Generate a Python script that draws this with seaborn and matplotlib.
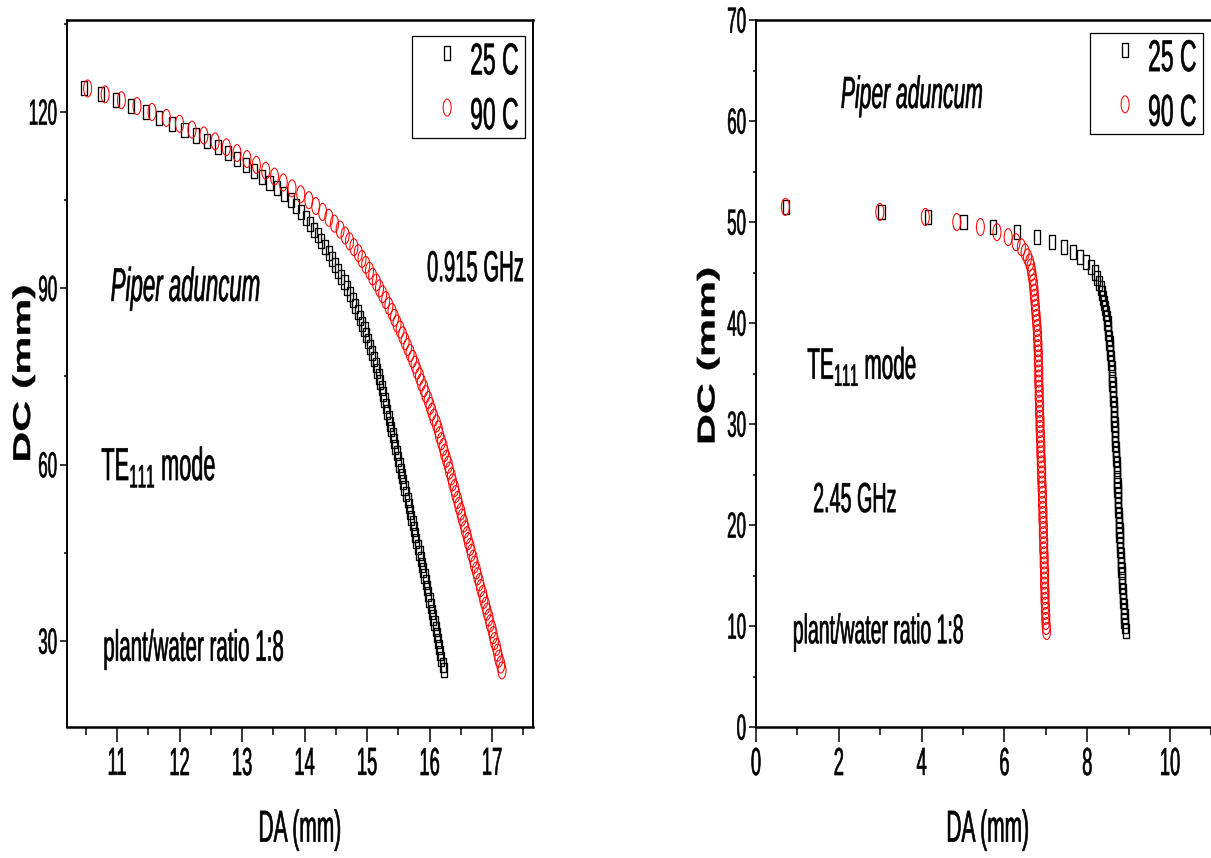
import matplotlib
matplotlib.use("Agg")
import numpy as np
import pandas as pd
import matplotlib.pyplot as plt
import seaborn as sns
from matplotlib.path import Path
from matplotlib.patheffects import AbstractPathEffect
from matplotlib.transforms import Affine2D

# ---------------- data ----------------
series_labels = ["25 C", "90 C"]
series_colors = ["black", "red"]

# 0.915 GHz panel: cavity diameter DC (mm) and antenna distance DA (mm)
dc_915 = [124, 123, 122, 121, 120, 119, 118, 117, 116, 115,
          114, 113, 112, 111, 110, 109, 108, 107, 106, 105,
          104, 103, 102, 101, 100, 99, 98, 97, 96, 95,
          94, 93, 92, 91, 90, 89, 88, 87, 86, 85,
          84, 83, 82, 81, 80, 79, 78, 77, 76, 75,
          74, 73, 72, 71, 70, 69, 68, 67, 66, 65,
          64, 63, 62, 61, 60, 59, 58, 57, 56, 55,
          54, 53, 52, 51, 50, 49, 48, 47, 46, 45,
          44, 43, 42, 41, 40, 39, 38, 37, 36, 35,
          34, 33, 32, 31, 30, 29, 28, 27, 26, 25]
da_915_25 = [10.47, 10.75, 10.99, 11.23, 11.46, 11.67, 11.88, 12.08, 12.27, 12.44,
             12.61, 12.77, 12.92, 13.06, 13.19, 13.32, 13.44, 13.56, 13.67, 13.78,
             13.87, 13.95, 14.02, 14.09, 14.15, 14.21, 14.27, 14.33, 14.39, 14.44,
             14.49, 14.54, 14.59, 14.64, 14.68, 14.73, 14.77, 14.81, 14.85, 14.89,
             14.92, 14.96, 14.99, 15.02, 15.05, 15.08, 15.11, 15.14, 15.16, 15.19,
             15.21, 15.24, 15.26, 15.28, 15.30, 15.32, 15.35, 15.37, 15.39, 15.41,
             15.43, 15.45, 15.48, 15.50, 15.52, 15.54, 15.56, 15.58, 15.60, 15.63,
             15.65, 15.67, 15.69, 15.71, 15.73, 15.75, 15.77, 15.79, 15.81, 15.84,
             15.86, 15.88, 15.90, 15.92, 15.94, 15.96, 15.98, 16.00, 16.02, 16.04,
             16.06, 16.08, 16.10, 16.12, 16.14, 16.15, 16.17, 16.19, 16.21, 16.23]
da_915_90 = [10.53, 10.81, 11.07, 11.32, 11.56, 11.79, 12.00, 12.20, 12.39, 12.57,
             12.75, 12.92, 13.08, 13.23, 13.38, 13.52, 13.66, 13.80, 13.94, 14.07,
             14.18, 14.29, 14.39, 14.48, 14.57, 14.65, 14.72, 14.79, 14.86, 14.92,
             14.98, 15.04, 15.09, 15.15, 15.20, 15.25, 15.30, 15.35, 15.40, 15.44,
             15.48, 15.53, 15.57, 15.61, 15.65, 15.69, 15.73, 15.77, 15.80, 15.84,
             15.87, 15.91, 15.94, 15.98, 16.01, 16.04, 16.07, 16.11, 16.14, 16.16,
             16.19, 16.22, 16.24, 16.27, 16.30, 16.32, 16.35, 16.37, 16.40, 16.42,
             16.45, 16.47, 16.50, 16.52, 16.55, 16.57, 16.60, 16.62, 16.65, 16.67,
             16.70, 16.72, 16.75, 16.77, 16.80, 16.82, 16.85, 16.87, 16.90, 16.92,
             16.95, 16.97, 17.00, 17.02, 17.04, 17.07, 17.09, 17.11, 17.14, 17.16]

# 2.45 GHz panel
dc_245 = [51.5, 51.0, 50.5, 50.0, 49.5, 49.0, 48.5, 48.0, 47.5, 47.0,
          46.5, 46.0, 45.5, 45.0, 44.5, 44.0, 43.5, 43.0, 42.5, 42.0,
          41.5, 41.0, 40.5, 40.0, 39.5, 39.0, 38.5, 38.0, 37.5, 37.0,
          36.5, 36.0, 35.5, 35.0, 34.5, 34.0, 33.5, 33.0, 32.5, 32.0,
          31.5, 31.0, 30.5, 30.0, 29.5, 29.0, 28.5, 28.0, 27.5, 27.0,
          26.5, 26.0, 25.5, 25.0, 24.5, 24.0, 23.5, 23.0, 22.5, 22.0,
          21.5, 21.0, 20.5, 20.0, 19.5, 19.0, 18.5, 18.0, 17.5, 17.0,
          16.5, 16.0, 15.5, 15.0, 14.5, 14.0, 13.5, 13.0, 12.5, 12.0,
          11.5, 11.0, 10.5, 10.0, 9.5]
da_245_25 = [0.73, 3.03, 4.16, 5.01, 5.72, 6.31, 6.79, 7.15, 7.43, 7.65,
             7.83, 7.98, 8.10, 8.18, 8.24, 8.29, 8.33, 8.36, 8.39, 8.41,
             8.43, 8.45, 8.47, 8.49, 8.50, 8.51, 8.53, 8.54, 8.55, 8.56,
             8.57, 8.58, 8.59, 8.60, 8.60, 8.61, 8.62, 8.62, 8.63, 8.64,
             8.64, 8.65, 8.65, 8.66, 8.67, 8.67, 8.68, 8.68, 8.69, 8.69,
             8.70, 8.71, 8.71, 8.72, 8.72, 8.73, 8.73, 8.74, 8.74, 8.75,
             8.75, 8.76, 8.77, 8.77, 8.78, 8.78, 8.79, 8.80, 8.80, 8.81,
             8.82, 8.82, 8.83, 8.84, 8.84, 8.85, 8.86, 8.86, 8.87, 8.88,
             8.89, 8.90, 8.90, 8.91, 8.93]
da_245_90 = [0.71, 2.99, 4.09, 4.85, 5.42, 5.82, 6.09, 6.28, 6.41, 6.50,
             6.56, 6.61, 6.64, 6.66, 6.68, 6.70, 6.71, 6.72, 6.73, 6.74,
             6.75, 6.76, 6.77, 6.78, 6.79, 6.80, 6.80, 6.81, 6.81, 6.82,
             6.82, 6.82, 6.83, 6.83, 6.83, 6.83, 6.84, 6.84, 6.84, 6.85,
             6.85, 6.85, 6.86, 6.86, 6.86, 6.87, 6.87, 6.88, 6.88, 6.88,
             6.89, 6.89, 6.90, 6.90, 6.90, 6.91, 6.91, 6.92, 6.92, 6.92,
             6.93, 6.93, 6.93, 6.94, 6.94, 6.94, 6.95, 6.95, 6.95, 6.96,
             6.96, 6.96, 6.97, 6.97, 6.97, 6.97, 6.98, 6.98, 6.98, 6.99,
             6.99, 7.00, 7.00, 7.01, 7.02]

# ---------------- style ----------------
sns.set_theme(style="ticks", rc={
    "axes.edgecolor": "black", "xtick.color": "black", "ytick.color": "black",
    "text.color": "black", "axes.labelcolor": "black",
})
plt.rcParams["font.family"] = ["Liberation Sans", "DejaVu Sans"]
plt.rcParams["mathtext.fontset"] = "custom"
plt.rcParams["mathtext.rm"] = "Liberation Sans"
plt.rcParams["mathtext.it"] = "Liberation Sans:italic"
plt.rcParams["mathtext.bf"] = "Liberation Sans:bold"


class Stretch(AbstractPathEffect):
    """Draw text glyphs with an anisotropic scale about their ink box."""

    def __init__(self, sx=1.0, sy=1.0, xanchor="center", yanchor="center", stroke=0.0):
        super().__init__()
        self.sx, self.sy = sx, sy
        self.xanchor, self.yanchor = xanchor, yanchor
        self.stroke = stroke

    def draw_path(self, renderer, gc, tpath, affine, rgbFace=None):
        ext = tpath.transformed(affine).get_extents()
        x0 = {"left": ext.x0, "right": ext.x1}.get(self.xanchor, 0.5 * (ext.x0 + ext.x1))
        y0 = {"bottom": ext.y0, "top": ext.y1}.get(self.yanchor, 0.5 * (ext.y0 + ext.y1))
        scale = (Affine2D().translate(-x0, -y0)
                 .scale(self.sx, self.sy).translate(x0, y0))
        gc0 = renderer.new_gc()
        gc0.copy_properties(gc)
        if self.stroke > 0 and rgbFace is not None:
            gc0.set_linewidth(self.stroke)
            gc0.set_foreground(rgbFace)
        renderer.draw_path(gc0, tpath, affine + scale, rgbFace)
        gc0.restore()


K = 2.13
STROKE = 0.45


def tall(anchor="center", k=K, stroke=STROKE):
    return [Stretch(1.0, k, "center", anchor, stroke)]


# narrow open markers
square_mk = Path([(-0.22, -0.5), (0.22, -0.5), (0.22, 0.5), (-0.22, 0.5), (-0.22, -0.5)],
                 [Path.MOVETO, Path.LINETO, Path.LINETO, Path.LINETO, Path.CLOSEPOLY])
circle_mk = Path.unit_circle().transformed(Affine2D().scale(0.235, 0.5))
markers = [square_mk, circle_mk]
msizes = [102, 150]
mlws = [0.95, 0.75]

fig = plt.figure(figsize=(12.11, 8.58), dpi=100)
fig.patch.set_facecolor("white")
ax1 = fig.add_axes([67 / 1211, 131 / 858, 466 / 1211, 707 / 858])
ax2 = fig.add_axes([756 / 1211, 131 / 858, 463.7 / 1211, 707 / 858])

panels = [
    (ax1, dc_915, [da_915_25, da_915_90]),
    (ax2, dc_245, [da_245_25, da_245_90]),
]

for ax, dc, das in panels:
    for da, lab, col, mk, sz, lw in zip(das, series_labels, series_colors, markers, msizes, mlws):
        df = pd.DataFrame({"DA": da, "DC": dc})
        sns.scatterplot(data=df, x="DA", y="DC", ax=ax, marker=mk, s=sz,
                        facecolor="none", edgecolor=col, color=col,
                        linewidth=lw, label=lab, legend=False)


def style_axes(ax, xlim, ylim, xmaj, xmin, ymaj, ymin):
    ax.set_xlim(*xlim)
    ax.set_ylim(*ylim)
    ax.set_xticks(xmaj)
    ax.set_xticks(xmin, minor=True)
    ax.set_yticks(ymaj)
    ax.set_yticks(ymin, minor=True)
    ax.tick_params(axis="x", which="major", direction="out", length=10.8, width=1.1,
                   pad=4.0, labelsize=13.2)
    ax.tick_params(axis="x", which="minor", direction="out", length=5.4, width=1.1)
    ax.tick_params(axis="y", which="major", direction="out", length=5.0, width=1.1,
                   pad=2.2, labelsize=12.2)
    ax.tick_params(axis="y", which="minor", direction="out", length=2.5, width=1.1)
    for lbl in ax.get_xticklabels():
        lbl.set_path_effects(tall("top"))
    for lbl in ax.get_yticklabels():
        lbl.set_path_effects(tall("center"))
    for name, sp in ax.spines.items():
        sp.set_visible(True)
        sp.set_color("black")
        sp.set_linewidth(1.8 if name in ("top", "bottom") else 1.4)
    ax.set_facecolor("white")
    ax.grid(False)


style_axes(ax1, (10.2, 17.656), (15.37, 135.65),
           [11, 12, 13, 14, 15, 16, 17],
           [10.5, 11.5, 12.5, 13.5, 14.5, 15.5, 16.5, 17.5],
           [30, 60, 90, 120], [45, 75, 105, 135])
style_axes(ax2, (0, 11.2), (0, 70),
           [0, 2, 4, 6, 8, 10], [1, 3, 5, 7, 9, 11],
           [0, 10, 20, 30, 40, 50, 60, 70], [5, 15, 25, 35, 45, 55, 65])


def axis_labels(ax, ylab_x, ylab_y):
    ax.set_xlabel("DA (mm)", fontsize=15.1)
    ax.xaxis.set_label_coords(0.5, -0.1457)
    ax.xaxis.label.set_va("center")
    ax.xaxis.label.set_path_effects(tall("center"))
    ax.set_ylabel("DC (mm)", fontsize=17.5, fontweight="bold")
    ax.yaxis.set_label_coords(ylab_x, ylab_y)
    ax.yaxis.label.set_va("center")
    # rotated label: lengthen it along the axis
    ax.yaxis.label.set_path_effects([Stretch(1.0, 1.76, "center", "center", 0.3)])


axis_labels(ax1, -0.0933, 0.5)
axis_labels(ax2, -0.1035, 0.525)


def note(ax, x, y, s, size, style="normal"):
    t = ax.text(x, y, s, fontsize=size, style=style, ha="left", va="center")
    t.set_path_effects(tall("center"))


note(ax1, 10.90, 89.9, "Piper aduncum", 16, "italic")
note(ax1, 15.96, 93.5, "0.915 GHz", 14.6)
note(ax1, 10.75, 59.6, "TE$_{111}$ mode", 15.6)
note(ax1, 10.78, 28.6, "plant/water ratio 1:8", 14.8)

note(ax2, 2.05, 62.45, "Piper aduncum", 15.2, "italic")
note(ax2, 1.24, 35.7, "TE$_{111}$ mode", 14.9)
note(ax2, 1.38, 22.58, "2.45 GHz", 14.2)
note(ax2, 0.89, 9.3, "plant/water ratio 1:8", 14.0)


def legend(ax, anchor):
    fs = 16.5
    leg = ax.legend(loc="upper right", bbox_to_anchor=anchor, borderaxespad=0,
                    fontsize=fs, frameon=True, fancybox=False, edgecolor="black",
                    framealpha=1, scatterpoints=1, scatteryoffsets=[0.42],
                    handlelength=2.47, handleheight=1.86, handletextpad=-0.23,
                    borderpad=0.29, labelspacing=0.93)
    leg.get_frame().set_linewidth(0.9)
    for t in leg.get_texts():
        t.set_path_effects(tall("center", k=1.94))


legend(ax1, (0.983, 0.977))
legend(ax2, (0.964, 0.9816))

fig.savefig("out.png", dpi=100, facecolor="white")
